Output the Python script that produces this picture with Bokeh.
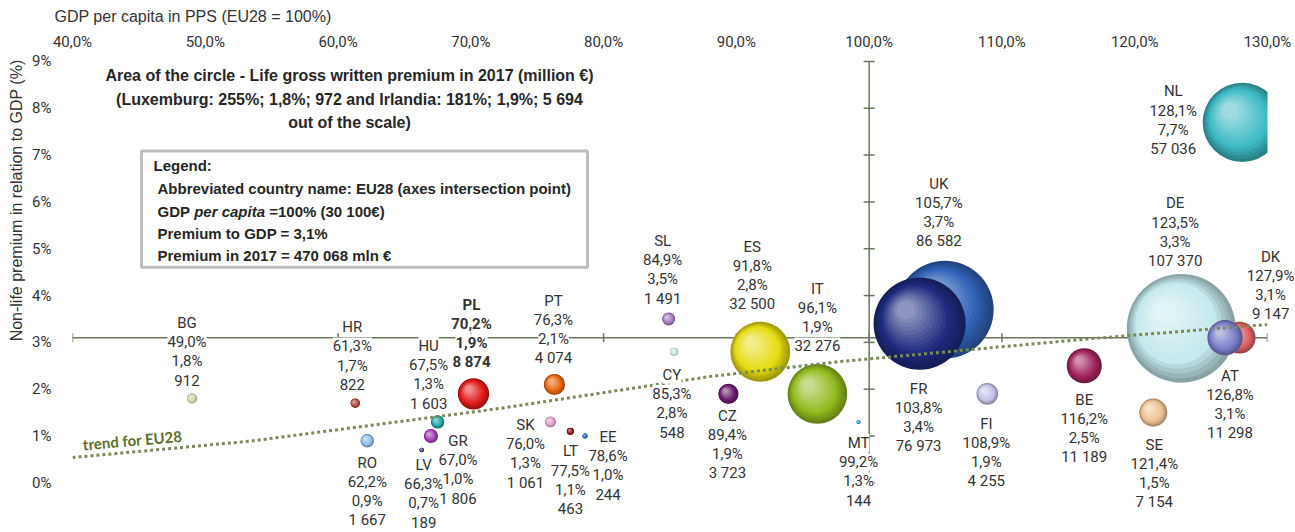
import numpy as np
from bokeh.plotting import figure
from bokeh.models import Range1d, FixedTicker, ColumnDataSource, LabelSet, Label, BoxAnnotation, Title
from bokeh.core.properties import value
from bokeh.embed import file_html
from bokeh.resources import INLINE

# ---------------- data ----------------
countries = ["DE", "UK", "FR", "NL", "ES", "IT", "DK", "AT", "BE", "PL", "SE", "FI", "PT",
             "CZ", "GR", "RO", "HU", "SL", "SK", "BG", "HR", "CY", "LT", "EE", "LV", "MT"]
gdp_pps = [123.5, 105.7, 103.8, 128.1, 91.8, 96.1, 127.9, 126.8, 116.2, 70.2, 121.4, 108.9, 76.3,
           89.4, 67.0, 62.2, 67.5, 84.9, 76.0, 49.0, 61.3, 85.3, 77.5, 78.6, 66.3, 99.2]
premium_to_gdp = [3.3, 3.7, 3.4, 7.7, 2.8, 1.9, 3.1, 3.1, 2.5, 1.9, 1.5, 1.9, 2.1,
                  1.9, 1.0, 0.9, 1.3, 3.5, 1.3, 1.8, 1.7, 2.8, 1.1, 1.0, 0.7, 1.3]
life_premium = [107370, 86582, 76973, 57036, 32500, 32276, 9147, 11298, 11189, 8874, 7154, 4255, 4074,
                3723, 1806, 1667, 1603, 1491, 1061, 912, 822, 548, 463, 244, 189, 144]
bold_countries = ["PL"]

x_ticks = [40, 50, 60, 70, 80, 90, 100, 110, 120, 130]
x_tick_labels = ["40,0%", "50,0%", "60,0%", "70,0%", "80,0%", "90,0%", "100,0%", "110,0%", "120,0%", "130,0%"]
y_ticks = [0, 1, 2, 3, 4, 5, 6, 7, 8, 9]
y_tick_labels = ["0%", "1%", "2%", "3%", "4%", "5%", "6%", "7%", "8%", "9%"]
x_title = "GDP per capita in PPS (EU28 = 100%)"
y_title = "Non-life premium in relation to GDP (%)"

eu_gdp = 100.0
eu_premium_to_gdp = 3.1

trend_x = [40.0, 53.4, 72.2, 88.0, 97.8, 116.7, 130.0]
trend_y = [0.54, 0.89, 1.59, 2.27, 2.59, 3.08, 3.38]

# ---------------- styles ----------------
colors = ["#c4e9ee", "#3163b8", "#1f2c80", "#3dbac4", "#e6dc12", "#93ba1e", "#e06262", "#7b7fca",
          "#a2245e", "#e21a1c", "#efc393", "#c3c4e6", "#e8660e", "#6b1c6e", "#9c3fae", "#8bbce8",
          "#1fa5a8", "#a57cc4", "#e09ec8", "#d6d4ae", "#b3443e", "#cde6ee", "#8e1414", "#2266bb",
          "#3b3f86", "#2aa3d6"]
# label placement (screen px, first-line centre relative to bubble centre, down positive)
label_dx = [-6, -6, -1, -69, -8, 0, 31, 5, 0, -2, 1, -1, -1, -1, 27, 0, -9, -6, -25, -5, -3, -2, 0, 23, 2, 0]
label_dy = [-125, -126, 65, -31, -105, -105, -81, 38, 34, -89, 32, 30, -84, 22, 5, 22, -76, -78, 3, -76, -76, 23, 20, 1, 15, 21]
LINE_STEP = 19.2

AX_COL = "#6b775f"
TXT_COL = "#333333"
LBL_FONT = "Roboto"
SANS = "Liberation Sans"

W, H = 1295, 532
FR_LEFT, FR_RIGHT, FR_TOP = 72, 1267, 56      # page px of x=40%, x=130%, frame top
X0, X1 = x_ticks[0], x_ticks[-1]
ppx = (FR_RIGHT - FR_LEFT) / (X1 - X0)
ppy = 424.0 / 9.0                               # 9% at y=58, 0% at y=482
Y1 = 9 + (58 - FR_TOP) / ppy
Y0 = Y1 - (H - FR_TOP) / ppy
XE = X1 + (W - FR_RIGHT) / ppx


def sx(px):  # page pixel -> data x (annotation placement)
    return X0 + (px - FR_LEFT) / ppx


def sy(py):  # page pixel -> data y
    return (482 - py) / ppy


p = figure(width=W, height=H, output_backend="svg", toolbar_location=None,
           x_range=Range1d(X0, XE), y_range=Range1d(Y0, Y1), x_axis_location="above",
           min_border_left=FR_LEFT, min_border_right=0, min_border_top=FR_TOP,
           min_border_bottom=0, tools="")
p.outline_line_color = None
p.grid.visible = False
p.background_fill_color = "white"
p.border_fill_color = "white"

for ax, ticks, labels in ((p.xaxis, x_ticks, x_tick_labels), (p.yaxis, y_ticks, y_tick_labels)):
    ax.ticker = FixedTicker(ticks=ticks)
    ax.major_label_overrides = {t: l for t, l in zip(ticks, labels)}
    ax.axis_line_color = None
    ax.major_tick_line_color = None
    ax.minor_tick_line_color = None
    ax.major_label_text_font = LBL_FONT
    ax.major_label_text_font_size = "15px"
    ax.major_label_text_color = TXT_COL
p.xaxis.major_label_standoff = 3
p.yaxis.major_label_standoff = 15

# axis titles as side-panel titles (not clipped by the plot area)
p.add_layout(Title(text=x_title, align="left", offset=-18, text_font=SANS, text_font_size="16px",
                   text_font_style="normal", text_color=TXT_COL), "above")
p.add_layout(Title(text=y_title, align="right", offset=0, text_font=SANS, text_font_size="16px",
                   text_font_style="normal", text_color=TXT_COL), "left")

# axes crossing at EU28 point
p.line([X0, X1], [eu_premium_to_gdp, eu_premium_to_gdp], line_color=AX_COL, line_width=1.5)
p.line([eu_gdp, eu_gdp], [y_ticks[0], y_ticks[-1]], line_color=AX_COL, line_width=1.5)
p.scatter(x_ticks, [eu_premium_to_gdp] * len(x_ticks), marker="dash", angle=np.pi / 2, size=9,
          line_color=AX_COL, line_width=1.5)
p.scatter([eu_gdp] * len(y_ticks), y_ticks, marker="dash", size=11, line_color=AX_COL, line_width=1.5)


# shaded bubbles (area ~ life premium)
def shade(h, t):
    c = np.array([int(h[1:3], 16), int(h[3:5], 16), int(h[5:7], 16)], dtype=float)
    if t < 0.3:
        c = c * (0.7 + 0.3 * t / 0.3)
    else:
        k = (t - 0.3) / 0.7
        c = c + (255 - c) * 0.5 * k
    c = np.clip(c, 0, 255).astype(int)
    return "#%02x%02x%02x" % tuple(c)


NLAY = 14
bx, by, bs, bc = [], [], [], []
for i in range(len(countries)):
    d = 0.332 * np.sqrt(life_premium[i])
    r = d / 2
    for j in range(NLAY):
        t = j / (NLAY - 1)
        off = 0.3 * r * t
        bx.append(gdp_pps[i] - off / ppx)
        by.append(premium_to_gdp[i] + off / ppy)
        bs.append(d * (1 - 0.8 * t))
        bc.append(shade(colors[i], t))
bsrc = ColumnDataSource(dict(x=bx, y=by, size=bs, color=bc))
p.scatter(x="x", y="y", size="size", fill_color="color", line_color=None, source=bsrc)

# trend line
p.line(trend_x, trend_y, line_color="#7a8a58", line_width=3, line_dash="3 3")

# plot area ends at 130% : bubbles beyond it are cut off
p.add_layout(BoxAnnotation(left=X1, fill_color="white", fill_alpha=1, line_color=None))


def pct(v):
    return f"{v:.1f}".replace(".", ",") + "%"


def thousands(v):
    return f"{v:,}".replace(",", " ")


def label_source(bold, row):
    d = dict(x=[], y=[], text=[], xo=[], yo=[])
    for i, c in enumerate(countries):
        if (c in bold_countries) != bold:
            continue
        rows = [c, pct(gdp_pps[i]), pct(premium_to_gdp[i]), thousands(life_premium[i])]
        d["x"].append(gdp_pps[i])
        d["y"].append(premium_to_gdp[i])
        d["text"].append(rows[row])
        d["xo"].append(label_dx[i])
        d["yo"].append(-(label_dy[i] + row * LINE_STEP))
    return ColumnDataSource(d)


for bold in (False, True):
    for row in range(4):
        p.add_layout(LabelSet(x="x", y="y", text="text", x_offset="xo", y_offset="yo",
                              source=label_source(bold, row), text_align="center",
                              text_baseline="middle", text_font=value(LBL_FONT),
                              text_font_size=value("15px"),
                              text_font_style="bold" if bold else "normal",
                              text_color=TXT_COL, background_fill_color="white"))

# trend label
p.add_layout(Label(x=sx(132), y=sy(439), text="trend for EU28", angle=0.09, text_font="Lato",
                   text_font_style="bold", text_font_size="15px", text_color="#5b6e2a",
                   text_align="center", text_baseline="middle"))

# chart title
p.add_layout(Label(x=sx(349), y=sy(64), text="Area of the circle - Life gross written premium in 2017 (million €)\n"
                   "(Luxemburg: 255%; 1,8%; 972 and Irlandia: 181%; 1,9%; 5 694\nout of the scale)",
                   text_font=SANS, text_font_style="bold", text_font_size="16px", text_color="#262626",
                   text_align="center", text_baseline="top", text_line_height=1.375))

# legend box
p.add_layout(BoxAnnotation(left=sx(141), right=sx(587), top=sy(148), bottom=sy(265),
                           fill_color="white", fill_alpha=1, line_color="#bdbdbd", line_width=3,
                           line_alpha=1))
leg_lines = [(153, 163, "Legend:", "bold"),
             (157, 186, "Abbreviated country name: EU28 (axes intersection point)", "bold"),
             (157, 209, "GDP", "bold"),
             (157 + 15 * 2.445, 209, "per capita", "bold italic"),
             (157 + 15 * (2.445 + 4.724 + 0.278), 209, "=100% (30 100€)", "bold"),
             (157, 231, "Premium to GDP = 3,1%", "bold"),
             (157, 253, "Premium in 2017 = 470 068 mln €", "bold")]
for px, py, txt, style in leg_lines:
    p.add_layout(Label(x=sx(px), y=sy(py), text=txt, text_font=SANS, text_font_style=style,
                       text_font_size="15px", text_color="#262626", text_align="left",
                       text_baseline="middle"))

open("out.html", "w").write(file_html(p, INLINE))
